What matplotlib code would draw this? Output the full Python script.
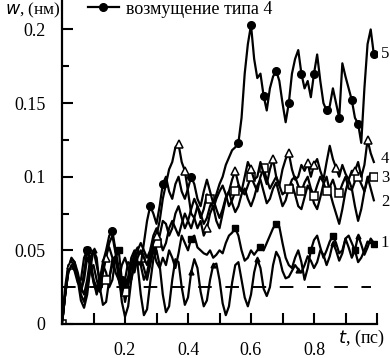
import matplotlib
matplotlib.use("Agg")
import matplotlib.pyplot as plt
import numpy as np

plt.rcParams['font.family'] = ['Liberation Serif', 'DejaVu Serif']

# time, ps (step 0.01)
t = np.arange(100) / 100

# lowest oscillating curve
w_a = [0, .02, .038, .044, .042, .03, .016, .011, .02, .038,
       .05, .045, .025, .013, .015, .03, .044, .046, .035, .015,
       .005, .012, .03, .045, .04, .02, .006, .01, .028, .044,
       .05, .04, .02, .008, .012, .03, .044, .042, .025, .013,
       .018, .035, .044, .038, .022, .012, .016, .03, .04, .041,
       .03, .014, .006, .012, .028, .04, .042, .03, .018, .012,
       .02, .035, .044, .038, .024, .019, .025, .04, .049, .045,
       .036, .031, .032, .036, .04, .037, .035, .04, .046, .043,
       .038, .042, .05, .047, .04, .046, .055, .05, .043, .048,
       .058, .052, .045, .05, .06, .054, .047, .052, .058, .055]

# curve 1, filled squares
w_1 = [0, .02, .035, .04, .038, .03, .022, .035, .05, .045,
       .03, .02, .028, .04, .035, .025, .03, .045, .05, .03,
       .015, .025, .04, .048, .052, .04, .03, .035, .045, .05,
       .042, .038, .045, .04, .05, .045, .038, .048, .06, .055,
       .05, .058, .06, .052, .05, .048, .047, .05, .045, .047,
       .05, .048, .055, .06, .062, .065, .06, .05, .043, .045,
       .05, .047, .05, .052, .05, .055, .06, .065, .068, .066,
       .055, .045, .04, .038, .045, .05, .042, .03, .038, .05,
       .057, .06, .052, .045, .05, .056, .06, .055, .048, .05,
       .058, .06, .055, .05, .042, .045, .05, .056, .055, .054]

# curve 2
w_2 = [0, .02, .038, .045, .042, .035, .025, .02, .03, .045,
       .05, .04, .03, .035, .048, .052, .045, .035, .03, .04,
       .045, .038, .03, .04, .05, .055, .05, .045, .05, .06,
       .065, .058, .05, .055, .065, .07, .065, .06, .068, .075,
       .07, .065, .072, .08, .075, .068, .072, .08, .085, .078,
       .072, .078, .086, .09, .082, .076, .08, .088, .092, .085,
       .08, .086, .094, .098, .09, .082, .085, .092, .096, .088,
       .08, .084, .092, .095, .088, .08, .078, .086, .094, .09,
       .082, .078, .086, .095, .1, .09, .082, .075, .068, .078,
       .09, .098, .092, .08, .07, .078, .09, .1, .092, .084]

# curve 3, open squares
w_3 = [0, .02, .036, .042, .04, .032, .02, .015, .025, .038,
       .04, .03, .022, .028, .03, .032, .04, .045, .035, .025,
       .022, .03, .038, .042, .04, .045, .038, .03, .04, .05,
       .055, .06, .07, .068, .06, .065, .075, .08, .072, .065,
       .07, .078, .085, .08, .072, .078, .088, .085, .078, .085,
       .09, .094, .088, .08, .084, .09, .094, .09, .088, .094,
       .1, .095, .09, .1, .106, .098, .092, .096, .1, .094,
       .088, .09, .092, .098, .1, .094, .09, .096, .1, .092,
       .087, .094, .1, .096, .09, .093, .098, .091, .089, .095,
       .1, .092, .091, .097, .1, .095, .09, .098, .102, .1]

# curve 4, open triangles
w_4 = [0, .025, .04, .04, .038, .03, .022, .03, .045, .04,
       .03, .025, .022, .035, .045, .055, .06, .048, .03, .02,
       .03, .042, .04, .035, .045, .05, .045, .04, .048, .055,
       .06, .07, .085, .095, .105, .11, .12, .122, .11, .104,
       .09, .075, .072, .065, .07, .06, .065, .075, .08, .07,
       .065, .075, .085, .09, .098, .104, .095, .09, .1, .11,
       .105, .098, .1, .11, .102, .095, .105, .112, .1, .094,
       .105, .112, .116, .105, .098, .1, .108, .104, .109, .1,
       .108, .112, .104, .098, .11, .121, .112, .106, .1, .108,
       .102, .098, .104, .104, .11, .1, .108, .125, .116, .11]

# curve 5, filled circles
w_5 = [0, .02, .035, .04, .036, .028, .03, .045, .05, .04,
       .028, .022, .03, .042, .05, .06, .063, .05, .038, .03,
       .025, .032, .045, .05, .042, .04, .055, .07, .08, .075,
       .068, .08, .095, .1, .09, .085, .095, .1, .09, .085,
       .092, .1, .095, .085, .08, .09, .098, .09, .082, .088,
       .095, .1, .108, .113, .118, .12, .123, .14, .17, .19,
       .203, .18, .167, .17, .155, .145, .16, .168, .172, .165,
       .15, .137, .15, .17, .18, .186, .17, .16, .165, .154,
       .17, .183, .165, .15, .145, .148, .16, .15, .14, .177,
       .168, .16, .152, .14, .136, .123, .16, .19, .2, .183]

# where the markers sit (indices into t)
mk_a = [10, 23, 41, 48, 62, 75, 86, 94]
mk_1 = [8, 18, 29, 41, 55, 63, 68, 79, 86, 93, 99]
mk_3 = [0, 14, 20, 25, 30, 47, 55, 60, 64, 72, 76, 80, 84, 88, 94, 99]
mk_4 = [3, 14, 30, 37, 39, 46, 55, 60, 67, 72, 78, 80, 87, 93, 97]
mk_5 = [8, 16, 19, 28, 32, 41, 56, 60, 64, 68, 72, 76, 80, 84, 88, 92, 94, 99]

curve_names = ['1', '2', '3', '4', '5']
label_w = [0.055, 0.083, 0.099, 0.112, 0.183]

ref_level = 0.025
ref_end = 0.98

fig = plt.figure(figsize=(3.9, 3.58), dpi=100)
ax = fig.add_axes([62 / 390, 1 - 324 / 358, 315 / 390, 324 / 358])

lw = 1.6
ax.axhline(ref_level, xmin=0, xmax=ref_end, color='k', lw=1.4, dashes=(7, 7))
ax.plot(t, w_a, color='k', lw=lw, marker='^', ms=3.5, markevery=mk_a)
ax.plot(t, w_1, color='k', lw=lw, marker='s', ms=4.5, markevery=mk_1)
ax.plot(t, w_2, color='k', lw=lw)
ax.plot(t, w_3, color='k', lw=lw, marker='s', ms=5.5, mfc='white',
        mec='k', mew=1.1, markevery=mk_3)
ax.plot(t, w_4, color='k', lw=lw, marker='^', ms=6, mfc='white',
        mec='k', mew=1.1, markevery=mk_4)
ax.plot(t, w_5, color='k', lw=lw, marker='o', ms=5.5, markevery=mk_5,
        label='возмущение типа 4')

for name, yw in zip(curve_names, label_w):
    ax.text(1.012, yw, name, fontsize=12, va='center', ha='left')

ax.set_xlim(0, 1.0)
ax.set_ylim(0, 0.22)
ax.set_xticks([0.2, 0.4, 0.6, 0.8])
ax.set_xticklabels(['0.2', '0.4', '0.6', '0.8'])
ax.set_xticks([0.1, 0.3, 0.5, 0.7, 0.9, 1.0], minor=True)
ax.set_yticks([0, 0.05, 0.1, 0.15, 0.2])
ax.set_yticklabels(['0', '0.05', '0.1', '0.15', '0.2'])
ax.set_yticks([0.025, 0.075, 0.125, 0.175], minor=True)
ax.tick_params(axis='both', which='both', direction='in', width=1.5,
               labelsize=13, top=False, right=False)
ax.tick_params(axis='y', which='major', length=8, pad=12)
ax.tick_params(axis='y', which='minor', length=5)
ax.tick_params(axis='x', which='both', length=8, pad=13)
for s in ['top', 'right']:
    ax.spines[s].set_visible(False)
for s in ['left', 'bottom']:
    ax.spines[s].set_linewidth(1.6)
ax.patch.set_visible(False)

fig.text(61 / 390, 1 - 14 / 358, r'$\mathit{w}$, (нм)', fontsize=12.5,
         ha='right', va='baseline')
fig.text(338 / 390, 1 - 343 / 358, r'$\mathit{t}$, (пс)', fontsize=13,
         ha='left', va='baseline')

ax.legend(loc='center left', bbox_to_anchor=(88 / 390, 1 - 9 / 358),
          bbox_transform=fig.transFigure, frameon=False, fontsize=13,
          handlelength=1.7, handletextpad=0.4, borderpad=0, borderaxespad=0)

fig.savefig('out.png', dpi=100)
